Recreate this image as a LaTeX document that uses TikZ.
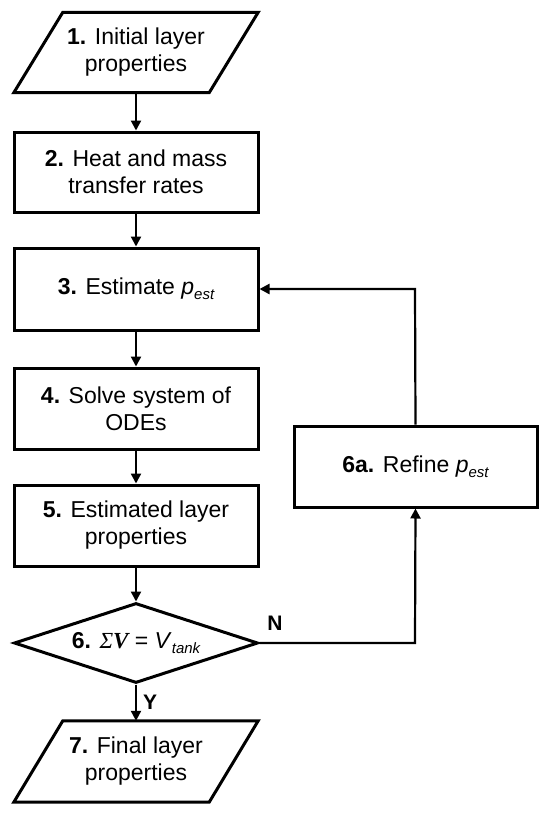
\documentclass[tikz,border=0pt]{standalone}
\usepackage{fontspec}
\setmainfont{Liberation Sans}
\newfontfamily\serifit{Liberation Serif}
\usetikzlibrary{arrows.meta,shapes.geometric}
\newcommand{\pest}{\textit{p}\raisebox{-0.4ex}{\fontsize{15}{15}\selectfont\itshape est}}
\newcommand{\vtank}{\textit{V}\raisebox{-0.4ex}{\fontsize{15}{15}\selectfont\itshape tank}}
\begin{document}
\begin{tikzpicture}[x=1pt,y=-1pt,
  txt/.style={align=center, font=\fontsize{23}{27}\selectfont, inner sep=0pt},
  box/.style={txt, draw, line width=3pt, minimum width=244pt, minimum height=81pt},
  body/.style={txt, minimum width=195pt, minimum height=80pt},
  shapeline/.style={line width=3pt, line join=miter},
  conn/.style={line width=2.2pt, -{Triangle[length=10pt,width=10pt]}},
  lbl/.style={font=\fontsize{21}{21}\selectfont\bfseries, inner sep=0pt}]
\useasboundingbox (0,0) rectangle (550,816);

% 1. parallelogram
\node[body] (p1) at (136,52.5) {\textbf{1.} Initial layer\\properties};
\draw[shapeline] ([xshift=24.5pt]p1.north west) -- ([xshift=24.5pt]p1.north east)
  -- ([xshift=-24.5pt]p1.south east) -- ([xshift=-24.5pt]p1.south west) -- cycle;

\node[box, minimum height=80pt] (b2) at (136,172) {\textbf{2.} Heat and mass\\transfer rates};
\node[box, minimum height=82pt] (b3) at (136,289) {\textbf{3.} Estimate \pest};
\node[box] (b4) at (136,408.5) {\textbf{4.} Solve system of\\ODEs};
\node[box] (b5) at (136,525.5) {\textbf{5.} Estimated layer\\properties};
\node[diamond, draw, shapeline, txt, minimum width=244pt, minimum height=80pt, aspect=3.05] (d) at (136,643)
  {\textbf{6.} {\serifit\itshape Σ\bfseries V} = \vtank};

% 7. parallelogram
\node[body, minimum height=81pt] (p7) at (136,761.5) {\textbf{7.} Final layer\\properties};
\draw[shapeline] ([xshift=24.5pt]p7.north west) -- ([xshift=24.5pt]p7.north east)
  -- ([xshift=-24.5pt]p7.south east) -- ([xshift=-24.5pt]p7.south west) -- cycle;

\node[box, minimum width=243pt] (b6a) at (415.5,466.5) {\textbf{6a.} Refine \pest};

\coordinate (cn) at (415,643);
\coordinate (ct) at (415,289);

\draw[conn] (p1.south) -- (b2.north);
\draw[conn] (b2.south) -- (b3.north);
\draw[conn] (b3.south) -- (b4.north);
\draw[conn] (b4.south) -- (b5.north);
\draw[conn] (b5.south) -- (d.north);
\draw[conn] (d.south) -- (p7.north) node[lbl, midway, right=6pt] (ly) {Y};
\draw[conn] (d.east) -- (cn) -- (b6a.south);
\draw[conn] (b6a.north) -- (ct) -- (b3.east);
\node[lbl] (ln) at (275,623) {N};
\end{tikzpicture}
\end{document}
